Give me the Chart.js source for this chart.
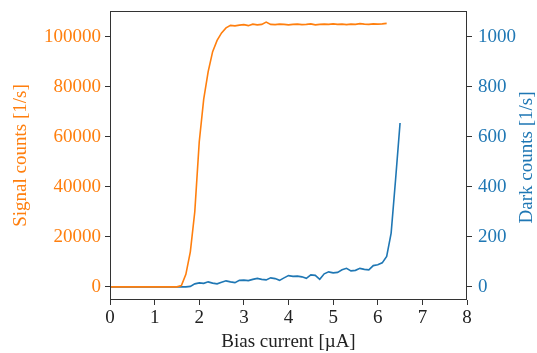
<!DOCTYPE html>
<html>
<head>
<meta charset="utf-8">
<script src="https://cdn.jsdelivr.net/npm/chart.js@4.4.0/dist/chart.umd.min.js"></script>
<style>
  html, body { margin: 0; padding: 0; background: #fff; }
  #wrap { width: 537px; height: 353px; }
</style>
</head>
<body>
<div id="wrap"><canvas id="biasChart" width="537" height="353"></canvas></div>
<script>
// bias current steps [uA]
const bias = [0.0, 0.1, 0.2, 0.3, 0.4, 0.5, 0.6, 0.7, 0.8, 0.9,
              1.0, 1.1, 1.2, 1.3, 1.4, 1.5, 1.6, 1.7, 1.8, 1.9,
              2.0, 2.1, 2.2, 2.3, 2.4, 2.5, 2.6, 2.7, 2.8, 2.9,
              3.0, 3.1, 3.2, 3.3, 3.4, 3.5, 3.6, 3.7, 3.8, 3.9,
              4.0, 4.1, 4.2, 4.3, 4.4, 4.5, 4.6, 4.7, 4.8, 4.9,
              5.0, 5.1, 5.2, 5.3, 5.4, 5.5, 5.6, 5.7, 5.8, 5.9,
              6.0, 6.1, 6.2, 6.3, 6.4, 6.5];

// signal counts [1/s], measured up to 6.2 uA
const signalCounts = [0, 0, 0, 0, 0, 0, 0, 0, 0, 0,
                      0, 0, 0, 0, 0, 0, 500, 5000, 14000, 30000,
                      58000, 75000, 86000, 94000, 98500, 101500, 103500, 104500, 104300, 104600,
                      104800, 104400, 105000, 104700, 104900, 105800, 104900, 104800, 105000, 104900,
                      104700, 104900, 105000, 104800, 104900, 105100, 104700, 104900, 105000, 104900,
                      105100, 104900, 105000, 104800, 105000, 104900, 105200, 105000, 104900, 105100,
                      105000, 105100, 105300];

// dark counts [1/s]
const darkCounts = [0, 0, 0, 0, 0, 0, 0, 0, 0, 0,
                    0, 0, 0, 0, 0, 0, 0, 0, 2, 12,
                    16, 14, 20, 15, 12, 18, 24, 20, 17, 26,
                    27, 25, 30, 34, 30, 28, 36, 33, 26, 36,
                    45, 42, 43, 40, 34, 48, 46, 30, 52, 60,
                    56, 58, 68, 74, 64, 66, 74, 70, 68, 85,
                    88, 96, 122, 215, 430, 655];

const xTicks = [0, 1, 2, 3, 4, 5, 6, 7, 8];
const signalTicks = [0, 20000, 40000, 60000, 80000, 100000];
const darkTicks = [0, 200, 400, 600, 800, 1000];

const orange = '#ff7f0e';
const blue = '#1f77b4';
const serif = "'Liberation Serif', 'DejaVu Serif', serif";
const fontSize = 19;

function toPoints(values) {
    return values.map((v, i) => ({ x: bias[i], y: v }));
}

// box around the plot area + right-hand title reading bottom to top
const frame = {
    id: 'frame',
    afterDraw(chart) {
        const a = chart.chartArea;
        const c = chart.ctx;
        c.save();
        c.strokeStyle = '#333';
        c.lineWidth = 1;
        c.strokeRect(a.left + 0.5, a.top + 0.5, a.right - a.left - 1, a.bottom - a.top - 1);
        c.translate(527, (a.top + a.bottom) / 2 + 2);
        c.rotate(-Math.PI / 2);
        c.fillStyle = blue;
        c.font = fontSize + 'px ' + serif;
        c.textAlign = 'center';
        c.textBaseline = 'middle';
        c.fillText('Dark counts [1/s]', 0, 0);
        c.restore();
    }
};

const tickGrid = { drawOnChartArea: false, drawTicks: true, tickLength: 5, color: '#333' };
const plain = v => String(v);

new Chart(document.getElementById('biasChart').getContext('2d'), {
    type: 'line',
    data: {
        datasets: [
            {
                label: 'Signal counts',
                data: toPoints(signalCounts),
                borderColor: orange,
                borderWidth: 1.6,
                pointRadius: 0,
                tension: 0,
                yAxisID: 'ySignal'
            },
            {
                label: 'Dark counts',
                data: toPoints(darkCounts),
                borderColor: blue,
                borderWidth: 1.6,
                pointRadius: 0,
                tension: 0,
                yAxisID: 'yDark'
            }
        ]
    },
    options: {
        responsive: false,
        animation: false,
        layout: { padding: { top: 11, left: 0, right: 0, bottom: 0 } },
        plugins: { legend: { display: false }, tooltip: { enabled: false } },
        scales: {
            x: {
                type: 'linear',
                min: 0,
                max: 8,
                afterBuildTicks: s => { s.ticks = xTicks.map(v => ({ value: v })); },
                afterFit: s => { s.height = 53; s.paddingLeft = 0; s.paddingRight = 0; },
                grid: tickGrid,
                border: { display: false },
                ticks: { color: '#222', font: { family: serif, size: fontSize }, padding: 2, callback: plain },
                title: { display: true, text: 'Bias current [µA]', color: '#222', font: { family: serif, size: fontSize }, padding: { top: 0, bottom: 0 } }
            },
            ySignal: {
                type: 'linear',
                position: 'left',
                min: -5250,
                max: 110250,
                afterBuildTicks: s => { s.ticks = signalTicks.map(v => ({ value: v })); },
                afterFit: s => { s.width = 110; s.paddingTop = 0; s.paddingBottom = 0; },
                grid: tickGrid,
                border: { display: false },
                ticks: { color: orange, font: { family: serif, size: fontSize }, padding: 4, callback: plain },
                title: { display: true, text: 'Signal counts [1/s]', color: orange, font: { family: serif, size: fontSize }, padding: { top: 10, bottom: 0 } }
            },
            yDark: {
                type: 'linear',
                position: 'right',
                min: -52.5,
                max: 1102.5,
                afterBuildTicks: s => { s.ticks = darkTicks.map(v => ({ value: v })); },
                afterFit: s => { s.width = 70; s.paddingTop = 0; s.paddingBottom = 0; },
                grid: tickGrid,
                border: { display: false },
                ticks: { color: blue, font: { family: serif, size: fontSize }, padding: 6, callback: plain },
                title: { display: false }
            }
        }
    },
    plugins: [frame]
});
</script>
</body>
</html>
